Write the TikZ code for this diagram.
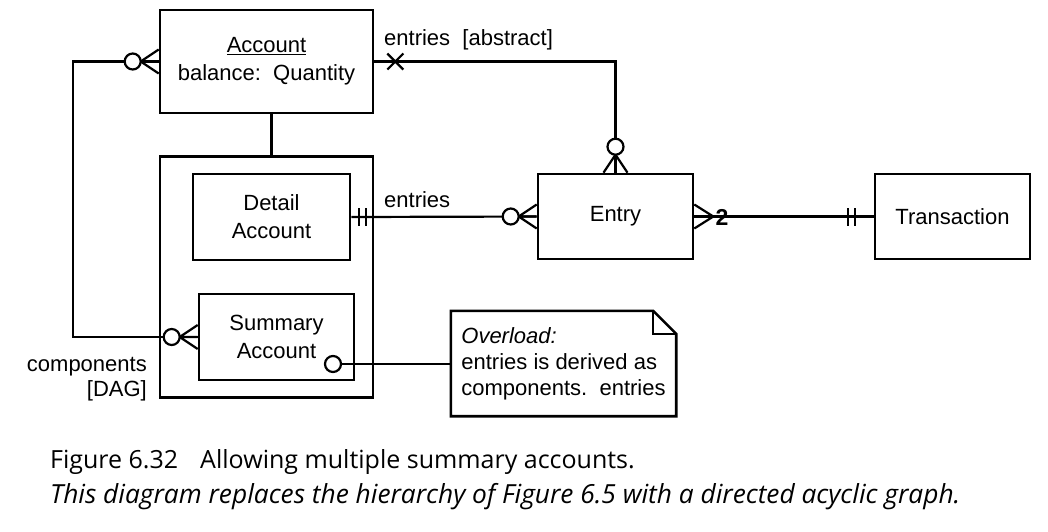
\documentclass[tikz,border=0pt]{standalone}
\usepackage{fontspec}
\setmainfont{Liberation Sans}
\newfontfamily\capfont{Open Sans}
\usetikzlibrary{calc}
\tikzset{
  box/.style={draw, line width=2.6pt, inner sep=0pt, align=center,
    font=\fontsize{22}{28}\selectfont},
  lbl/.style={font=\fontsize{22}{25}\selectfont, inner sep=0pt},
  conn/.style={line width=2.2pt},
  zeromany/.pic={\draw[line width=2.2pt] (0,-12)--(18,0)--(0,12) (0,0)--(18,0);
                 \draw[line width=2.2pt, fill=white] (26,0) circle[radius=8];},
  many/.pic={\draw[line width=2.2pt] (0,-12)--(19,0)--(0,12);},
  bars/.pic={\draw[line width=2.2pt] (0,-9)--(0,9) (7,-9)--(7,9);},
  xmark/.pic={\draw[line width=2.2pt] (-8,-8)--(8,8) (-8,8)--(8,-8);},
  capstyle/.style={inner sep=0pt, anchor=west}
}
\begin{document}
\begin{tikzpicture}[x=1pt,y=-1pt]
\useasboundingbox (0,0) rectangle (1048,531);

% boxes
\node[box, minimum width=213, minimum height=103] (Account) at (266.5,61.5)
  {\underline{Account}\\balance:\ \ Quantity};
\node[box, minimum width=213, minimum height=241] (Container) at (266.5,277) {};
\node[box, minimum width=157, minimum height=86] (Detail) at (271.5,217) {Detail\\Account};
\node[box, minimum width=155, minimum height=86] (Summary) at (276.5,337) {Summary\\Account};
\node[box, minimum width=155, minimum height=85] (Entry) at (615.5,216.5) {Entry};
\node[box, minimum width=155, minimum height=85] (Transaction) at (952.5,216.5) {Transaction};

% note
\node[inner sep=0pt, minimum width=225, minimum height=105, align=left,
  font=\fontsize{22}{26}\selectfont] (Note) at (563.5,363.5)
  {\textit{Overload:}\\entries is derived as\\components.\ \ entries};
\draw[line width=2.6pt] (Note.north west) -- ($(Note.north east)+(-23,0)$) -- ($(Note.north east)+(0,23)$)
  -- (Note.south east) -- (Note.south west) -- cycle;
\draw[line width=2.2pt] ($(Note.north east)+(-23,0)$) -- ($(Note.north east)+(-23,23)$) -- ($(Note.north east)+(0,23)$);

% connectors
\draw[conn] (Account.west) -- ++(-86,0) |- (Summary.west);
\draw[conn] ([xshift=5pt]Account.south) -- ([xshift=5pt]Container.north);
\draw[conn] (Account.east) -| (Entry.north);
\draw[conn] (Detail.east) -- (Entry.west);
\draw[conn] (Entry.east) -- (Transaction.west);
\coordinate (sc) at (333,364);
\draw[conn] (sc) -- (sc -| Note.west);

% end marks
\pic[rotate=180] at (Account.west) {zeromany};
\pic[rotate=180] at (Summary.west) {zeromany};
\pic[rotate=180] at (Entry.west) {zeromany};
\pic[rotate=90] at (Entry.north) {zeromany};
\pic at (Entry.east) {many};
\pic at ([xshift=8pt]Detail.east) {bars};
\pic[rotate=180] at ([xshift=-19pt]Transaction.west) {bars};
\pic at ([xshift=21pt]Account.east) {xmark};
\draw[line width=2.2pt, fill=white] (sc) circle[radius=8];

% labels
\node[lbl, anchor=west] (labAbs) at (384,40) {entries\ \ [abstract]};
\node[lbl, anchor=west] (labEnt) at (384,200) {entries};
\node[lbl, anchor=east, align=right] (labComp) at (147,379.5) {components\\\relax [DAG]};
\node[inner sep=0pt, font=\fontsize{23}{25}\selectfont\bfseries] (two) at (722,217) {2};

% caption
\node[capstyle, font=\capfont\fontsize{25}{28}\selectfont] (cap1) at (50,462)
  {Figure 6.32\hspace{22pt}Allowing multiple summary accounts.};
\node[capstyle, font=\capfont\fontsize{26.3}{28}\selectfont\itshape] (cap2) at (50,497)
  {This diagram replaces the hierarchy of Figure 6.5 with a directed acyclic graph.};
\end{tikzpicture}
\end{document}
